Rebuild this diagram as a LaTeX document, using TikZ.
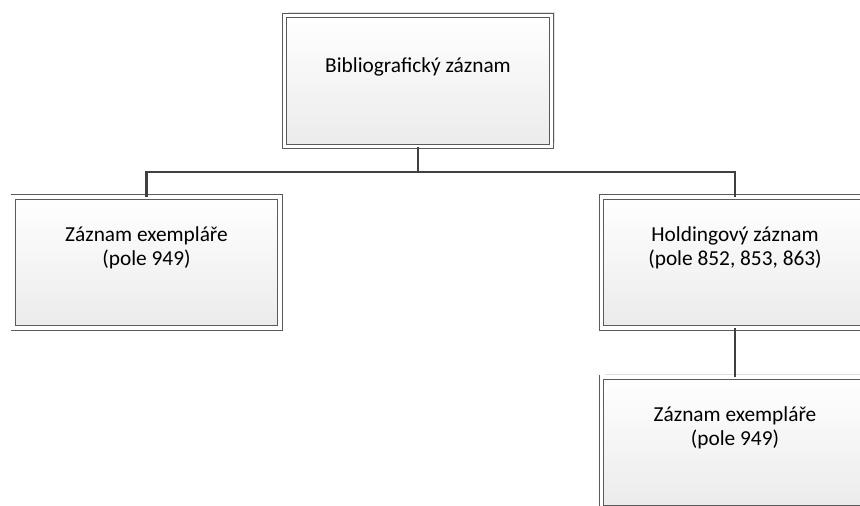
\documentclass[tikz,border=0pt]{standalone}
\usepackage{fontspec}
\setmainfont{Carlito}
\usepackage{xcolor}
\usepackage{tikz}
\usetikzlibrary{positioning,shadows,calc}
\definecolor{boxLine}{HTML}{5A5A5A}
\definecolor{linkLine}{HTML}{404040}
\definecolor{boxShade}{HTML}{EBEBEB}

\begin{document}
\begin{tikzpicture}[x=0.75pt,y=-0.75pt,
  rec/.style={rectangle,draw=boxLine,line width=0.7pt,double=white,double distance=2.6pt,
    top color=white,bottom color=boxShade,minimum width=200pt,minimum height=98pt,
    drop shadow={shadow xshift=2.6pt,shadow yshift=2.6pt,fill=black!12,opacity=1}},
  txt/.style={font=\fontsize{16}{18}\selectfont,align=center,inner sep=0pt},
  link/.style={draw=linkLine,line width=2.2pt}]
\useasboundingbox (0,0) rectangle (860,506);
\clip (0,0) rectangle (860,506);
% record boxes
\node[rec] (bib)   at (418,81)    {};
\node[rec] (item)  at (146.5,262.5) {};
\node[rec] (hold)  at (735,262.5) {};
\node[rec] (item2) at (735,442.5) {};
% box texts
\node[txt] (bibtxt)   at (418,67)    {Bibliografický záznam};
\node[txt] (itemtxt)  at (146.5,247.5) {Záznam exempláře\\(pole 949)};
\node[txt] (holdtxt)  at (735,247.5) {Holdingový záznam\\(pole 852, 853, 863)};
\node[txt] (item2txt) at (735,427.5) {Záznam exempláře\\(pole 949)};
% connectors
\coordinate (bus) at (418,172);
\draw[link] (bib.south) -- (bus);
\draw[link] (item.north) |- (bus) -| (hold.north);
\draw[link] (hold.south) -- (item2.north);
\end{tikzpicture}
\end{document}
